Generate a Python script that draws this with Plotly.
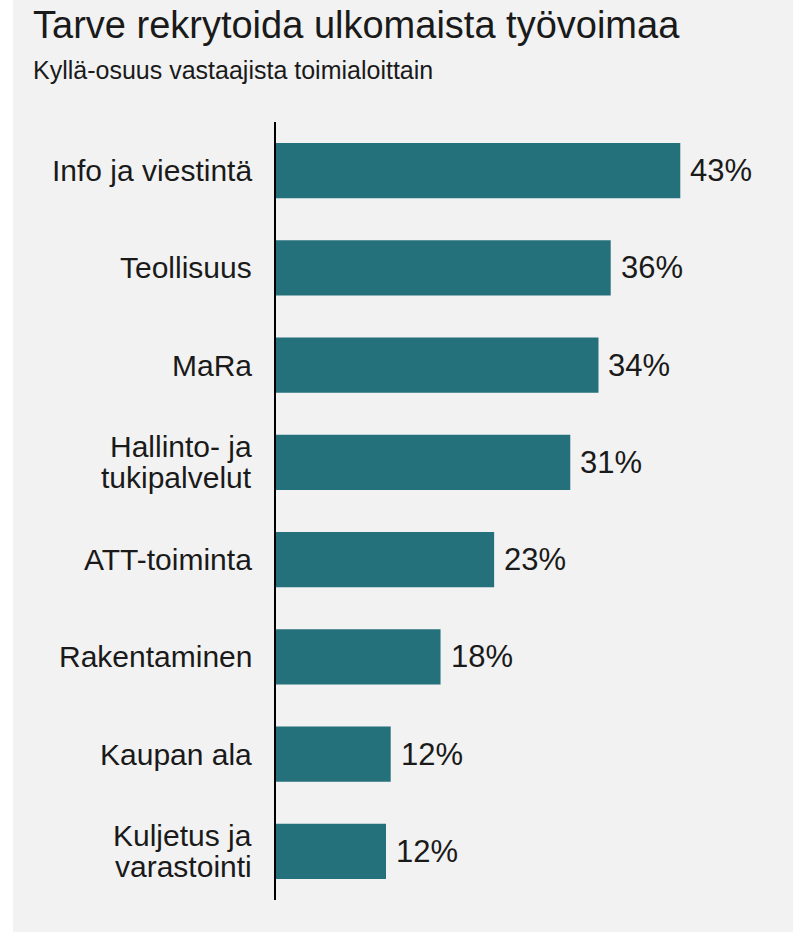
import plotly.graph_objects as go

# Share of "yes" answers by industry (%)
categories = [
    "Info ja viestintä",
    "Teollisuus",
    "MaRa",
    "Hallinto- ja<br>tukipalvelut",
    "ATT-toiminta",
    "Rakentaminen",
    "Kaupan ala",
    "Kuljetus ja<br>varastointi",
]
values = [43.0, 35.6, 34.3, 31.3, 23.2, 17.5, 12.2, 11.7]

title_text = "Tarve rekrytoida ulkomaista työvoimaa"
subtitle_text = "Kyllä-osuus vastaajista toimialoittain"

FONT = "Liberation Sans, Arial, sans-serif"
TEXT = "#1a1a1a"
BAR = "#25717b"
PANEL = "#f2f2f2"

W, H = 793, 933
L, R, T, B = 276, 18, 122, 33
PW, PH = W - L - R, H - T - B


def px_x(px):
    return (px - L) / PW


def px_y(py):
    return (H - B - py) / PH


fig = go.Figure(
    go.Bar(
        x=values,
        y=categories,
        orientation="h",
        marker=dict(color=BAR, line=dict(width=0)),
        width=0.566,
        hoverinfo="skip",
    )
)

annotations = []
# value labels at bar ends
for c, v in zip(categories, values):
    annotations.append(dict(
        x=v, y=c, xref="x", yref="y", text=f"{round(v)}%",
        xanchor="left", yanchor="middle", xshift=8, showarrow=False,
        font=dict(family=FONT, size=31, color=TEXT),
    ))
# category labels, one annotation per line for tight line spacing
LINE = 31
for c in categories:
    lines = c.split("<br>")
    n = len(lines)
    for i, ln in enumerate(lines):
        annotations.append(dict(
            x=0, y=c, xref="paper", yref="y", text=ln,
            xanchor="right", yanchor="middle", xshift=-22,
            yshift=((n - 1) / 2 - i) * LINE, showarrow=False,
            font=dict(family=FONT, size=30, color=TEXT),
        ))
# title and subtitle
annotations.append(dict(
    x=px_x(31), y=px_y(2), xref="paper", yref="paper", text=title_text,
    xanchor="left", yanchor="top", showarrow=False,
    font=dict(family=FONT, size=38, color=TEXT),
))
annotations.append(dict(
    x=px_x(31), y=px_y(54), xref="paper", yref="paper", text=subtitle_text,
    xanchor="left", yanchor="top", showarrow=False,
    font=dict(family=FONT, size=25, color=TEXT),
))

shapes = [
    # light grey panel behind everything
    dict(type="rect", xref="paper", yref="paper",
         x0=px_x(13), x1=px_x(W + 5), y0=px_y(932), y1=px_y(-5),
         fillcolor=PANEL, line=dict(width=0), layer="below"),
]

fig.update_layout(
    width=W, height=H,
    margin=dict(l=L, r=R, t=T, b=B, pad=0),
    paper_bgcolor="white",
    plot_bgcolor="rgba(0,0,0,0)",
    showlegend=False,
    annotations=annotations,
    shapes=shapes,
    xaxis=dict(range=[0, PW / 9.402], visible=False, fixedrange=True),
    yaxis=dict(
        categoryorder="array", categoryarray=categories,
        range=[len(categories) - 0.5, -0.5],
        showticklabels=False, ticks="", showgrid=False, zeroline=False,
        showline=True, linecolor="black", linewidth=2, fixedrange=True,
    ),
    font=dict(family=FONT, color=TEXT),
)

fig.write_html("out.html", config={"displayModeBar": False})
